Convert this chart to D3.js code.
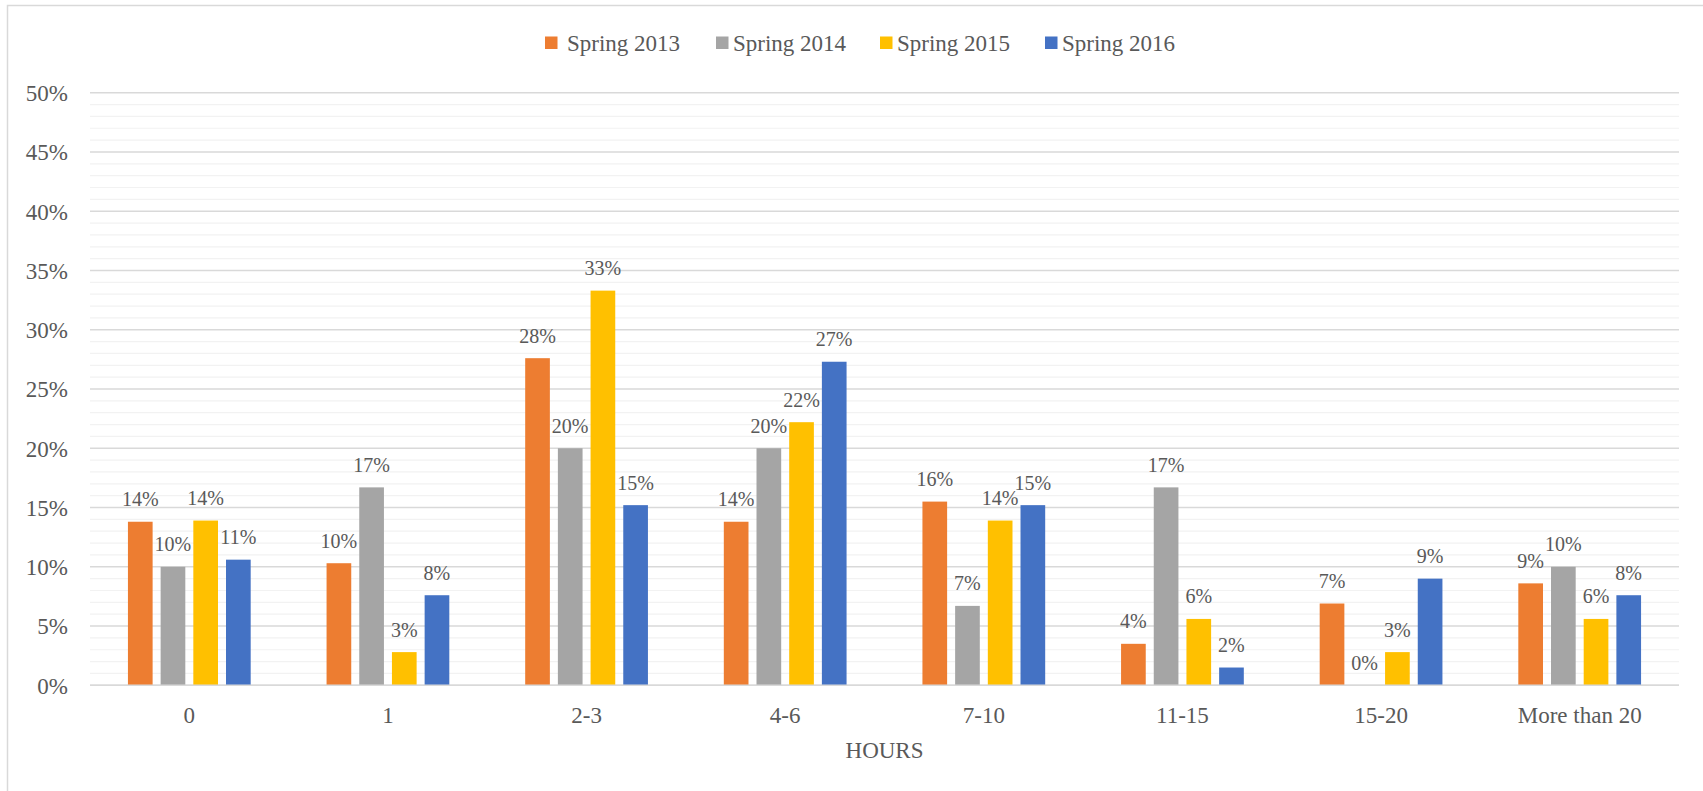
<!DOCTYPE html>
<html>
<head>
<meta charset="utf-8">
<script src="https://cdn.jsdelivr.net/npm/d3@7"></script>
<style>
  html, body { margin: 0; padding: 0; background: #ffffff; }
  svg { display: block; }
  text { font-family: "Liberation Serif", "Times New Roman", serif; fill: #595959; }
</style>
</head>
<body>
<script>
// ---- Data ----
const categories = ["0", "1", "2-3", "4-6", "7-10", "11-15", "15-20", "More than 20"];
const seriesNames = ["Spring 2013", "Spring 2014", "Spring 2015", "Spring 2016"];
const spring2013 = [13.8, 10.3, 27.6, 13.8, 15.5, 3.5, 6.9, 8.6];
const spring2014 = [10.0, 16.7, 20.0, 20.0, 6.7, 16.7, 0.0, 10.0];
const spring2015 = [13.9, 2.8, 33.3, 22.2, 13.9, 5.6, 2.8, 5.6];
const spring2016 = [10.6, 7.6, 15.2, 27.3, 15.2, 1.5, 9.0, 7.6];
const yTickValues = [0, 5, 10, 15, 20, 25, 30, 35, 40, 45, 50];
const xAxisTitle = "HOURS";
const colors = ["#ED7D31", "#A5A5A5", "#FFC000", "#4472C4"];

const seriesValues = [spring2013, spring2014, spring2015, spring2016];

// ---- Layout ----
const W = 1703, H = 791;
const plot = { left: 90, right: 1679, top: 92.7, bottom: 685.3 };

const svg = d3.select("body").append("svg")
  .attr("width", W).attr("height", H);

// chart border (only top/left visible in frame)
svg.append("rect")
  .attr("x", 7.5).attr("y", 5.5)
  .attr("width", W + 20).attr("height", H + 20)
  .attr("fill", "none").attr("stroke", "#d9d9d9").attr("stroke-width", 1.5);

const x0 = d3.scaleBand().domain(categories)
  .range([plot.left, plot.right])
  .paddingInner(0.382).paddingOuter(0.191);
const x1 = d3.scaleBand().domain(seriesNames)
  .range([0, x0.bandwidth()])
  .paddingInner(0.245);
const y = d3.scaleLinear().domain([0, 50]).range([plot.bottom, plot.top]);

// minor gridlines
const minor = d3.range(1, 50).filter(v => v % 5 !== 0);
svg.append("g").selectAll("line").data(minor).join("line")
  .attr("x1", plot.left).attr("x2", plot.right)
  .attr("y1", d => y(d)).attr("y2", d => y(d))
  .attr("stroke", "#f2f2f2").attr("stroke-width", 1.2);

// major gridlines
svg.append("g").selectAll("line").data(yTickValues).join("line")
  .attr("x1", plot.left).attr("x2", plot.right)
  .attr("y1", d => y(d)).attr("y2", d => y(d))
  .attr("stroke", "#d9d9d9").attr("stroke-width", 1.5);

// y axis labels
const yAxis = d3.axisLeft(y).tickValues(yTickValues)
  .tickFormat(d => d + "%").tickSize(0).tickPadding(0);
const gy = svg.append("g").attr("transform", `translate(68,0)`).call(yAxis);
gy.select(".domain").remove();
gy.selectAll("text")
  .style("font-family", '"Liberation Serif", "Times New Roman", serif')
  .style("font-size", "23px").style("fill", "#595959")
  .attr("dy", "0.34em");

// bars
const groups = svg.append("g").selectAll("g").data(categories).join("g")
  .attr("transform", d => `translate(${x0(d)},0)`);

groups.selectAll("rect")
  .data((c, i) => seriesNames.map((s, j) => ({ s, j, v: seriesValues[j][i] })))
  .join("rect")
  .attr("x", d => x1(d.s))
  .attr("width", x1.bandwidth())
  .attr("y", d => y(d.v))
  .attr("height", d => y(0) - y(d.v))
  .attr("fill", d => colors[d.j]);

// data labels
groups.selectAll("text.lbl")
  .data((c, i) => seriesNames.map((s, j) => ({ s, j, v: seriesValues[j][i] })))
  .join("text").attr("class", "lbl")
  .attr("x", d => x1(d.s) + x1.bandwidth() / 2)
  .attr("y", d => y(d.v) - 15.5)
  .attr("text-anchor", "middle")
  .style("font-size", "20px")
  .text(d => Math.round(d.v) + "%");

// x axis line
svg.append("line")
  .attr("x1", plot.left).attr("x2", plot.right)
  .attr("y1", y(0)).attr("y2", y(0))
  .attr("stroke", "#d9d9d9").attr("stroke-width", 1.5);

// x axis labels
const xAxis = d3.axisBottom(x0).tickSize(0).tickPadding(0);
const gx = svg.append("g").attr("transform", `translate(0,${y(0)})`).call(xAxis);
gx.select(".domain").remove();
gx.selectAll("text")
  .style("font-family", '"Liberation Serif", "Times New Roman", serif')
  .style("font-size", "23px").style("fill", "#595959")
  .attr("dy", null).attr("y", 37.5);

// x axis title
svg.append("text")
  .attr("x", (plot.left + plot.right) / 2).attr("y", 757.5)
  .attr("text-anchor", "middle").style("font-size", "23px")
  .text(xAxisTitle);

// legend
const legendX = [545, 716, 880, 1045];
const lg = svg.append("g").selectAll("g").data(seriesNames).join("g")
  .attr("transform", (d, i) => `translate(${legendX[i]},0)`);
lg.append("rect").attr("x", 0).attr("y", 36.5).attr("width", 12.5).attr("height", 12.5)
  .attr("fill", (d, i) => colors[i]);
lg.append("text").attr("x", (d, i) => i === 0 ? 22 : 17).attr("y", 51)
  .style("font-size", "23px").text(d => d);
</script>
</body>
</html>
